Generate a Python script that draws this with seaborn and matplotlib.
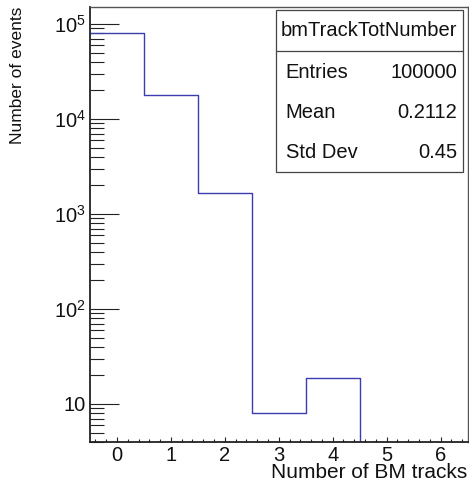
import numpy as np
import pandas as pd
import matplotlib
matplotlib.use("Agg")
import matplotlib.pyplot as plt
import seaborn as sns
from matplotlib.patches import Rectangle
from matplotlib.lines import Line2D
from matplotlib.ticker import FixedLocator, NullFormatter

# ---- data ----
track_numbers = [0, 1, 2, 3, 4, 5, 6]
event_counts = [80610, 17706, 1657, 8, 19, 0, 0]
hist_name = "bmTrackTotNumber"
stat_labels = ["Entries", "Mean", "Std Dev"]
stat_values = ["100000", "0.2112", "0.45"]
x_tick_values = [0, 1, 2, 3, 4, 5, 6]
y_tick_values = [10, 100, 1000, 10000, 100000]
y_tick_labels = ["10", r"$\mathregular{10^{2}}$", r"$\mathregular{10^{3}}$",
                 r"$\mathregular{10^{4}}$", r"$\mathregular{10^{5}}$"]

sns.set_style("white")
plt.rcParams['font.family'] = ['Liberation Sans', 'DejaVu Sans']
plt.rcParams['mathtext.fontset'] = 'custom'
plt.rcParams['mathtext.rm'] = 'Liberation Sans'

W, H = 469, 484
fig = plt.figure(figsize=(W / 100, H / 100), dpi=100)
fig.patch.set_facecolor("white")
L, R, T, B = 90, 467.5, 7, 442
ax = fig.add_axes([L / W, 1 - B / H, (R - L) / W, (B - T) / H])

df = pd.DataFrame({"n": track_numbers, "count": event_counts})
sns.histplot(data=df, x="n", weights="count", discrete=True,
             element="step", fill=False, color="#3c3cae", linewidth=1.0, ax=ax)

ax.set_yscale("log")
ax.set_xlim(-0.5, 6.5)
ax.set_ylim(3.98, 1.51e5)

ax.set_xticks(x_tick_values)
ax.set_xticklabels([str(v) for v in x_tick_values])
ax.xaxis.set_minor_locator(FixedLocator(np.arange(-0.4, 6.5, 0.2)))
ax.set_yticks(y_tick_values)
ax.set_yticklabels(y_tick_labels)
minors = [m * 10 ** e for e in range(0, 6) for m in range(2, 10)]
minors = [v for v in minors if 3.98 <= v <= 1.51e5 and v not in y_tick_values]
ax.yaxis.set_minor_locator(FixedLocator(minors))
ax.yaxis.set_minor_formatter(NullFormatter())

FS = 14.5
ax.tick_params(axis="both", which="both", direction="in", colors="#222222",
               labelcolor="#111111", labelsize=FS, width=0.8,
               bottom=True, left=True, top=False, right=False)
ax.tick_params(axis="y", which="major", length=21, pad=3)
ax.tick_params(axis="y", which="minor", length=10)
ax.tick_params(axis="x", which="major", length=3.8, pad=3)
ax.tick_params(axis="x", which="minor", length=2)

for s in ax.spines.values():
    s.set_visible(True)
    s.set_color("#222222")
    s.set_linewidth(1.0)
ax.spines["left"].set_linewidth(1.3)
ax.spines["bottom"].set_linewidth(1.3)
ax.spines["right"].set_color("#555555")
ax.spines["top"].set_color("#555555")

ax.set_xlabel("")
ax.set_ylabel("")
fig.text(R / W, 1 - 473 / H, "Number of BM tracks", ha="right", va="center",
         fontsize=15, color="#111111")
fig.text(18 / W, 1 - 75 / H, "Number of events", ha="center", va="center",
         rotation=90, fontsize=12.5, color="#111111")

# stats box
bx0, bx1, by0, by1 = 275.7, 462.5, 9.5, 171.7
fig.add_artist(Rectangle((bx0 / W, 1 - by1 / H), (bx1 - bx0) / W, (by1 - by0) / H,
                         transform=fig.transFigure, facecolor="white",
                         edgecolor="#444444", linewidth=0.9, zorder=5))
fig.add_artist(Line2D([bx0 / W, bx1 / W], [1 - 50.7 / H, 1 - 50.7 / H],
                      transform=fig.transFigure, color="#444444", linewidth=0.9, zorder=6))
fig.text((bx0 + bx1) / 2 / W, 1 - 31 / H, hist_name, ha="center", va="center",
         fontsize=FS, color="#111111", zorder=7)
row_y = [72, 112, 152]
for lab, val, y in zip(stat_labels, stat_values, row_y):
    fig.text(285.7 / W, 1 - y / H, lab, ha="left", va="center", fontsize=FS,
             color="#111111", zorder=7)
    fig.text(457 / W, 1 - y / H, val, ha="right", va="center", fontsize=FS,
             color="#111111", zorder=7)

fig.savefig("out.png", dpi=100, facecolor="white")
